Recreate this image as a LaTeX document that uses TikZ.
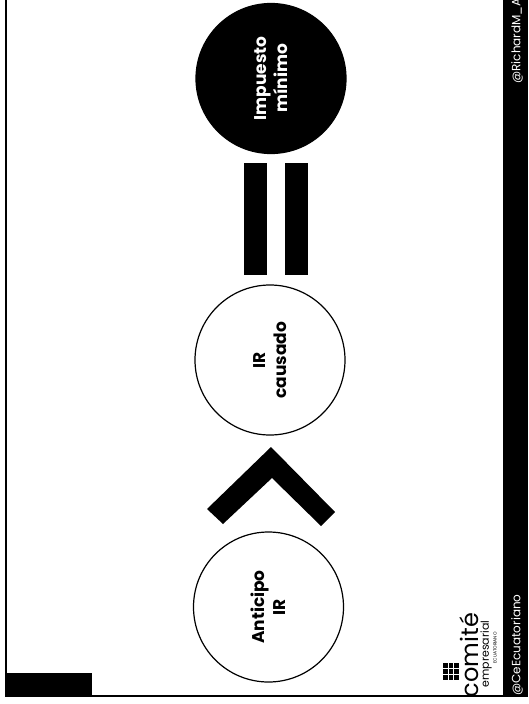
\documentclass[tikz,border=0pt]{standalone}
\usepackage{fontspec}
\setmainfont{Poppins}
\usepackage{tikz}
\tikzset{
  taxcircle/.style={circle, draw, line width=1.2pt, minimum size=150pt, inner sep=0pt},
  taxlabel/.style={rotate=90, align=center, font=\fontsize{17}{21}\selectfont\bfseries},
  tweet/.style={rotate=90, text=white, font=\fontsize{12}{14}\selectfont, inner sep=0pt}
}
\begin{document}
\begin{tikzpicture}[x=1pt, y=-1pt]
  \useasboundingbox (0,0) rectangle (528,704);
  \fill[white] (0,0) rectangle (528,704);
  %frame of the slide
  \fill (4.5,0) rectangle (7,697);
  \fill (4.5,673) rectangle (92,697);
  \fill (92,694.5) rectangle (528,697);
  \fill (503,0) rectangle (528,697);
  %the three circles
  \node [taxcircle] (anticipo) at (268.5,607) {};
  \node [taxlabel] at (anticipo.center) {Anticipo\\IR};
  \node [taxcircle] (causado) at (270,360) {};
  \node [taxlabel] at (causado.center) {IR\\causado};
  \node [taxcircle, fill=black] (minimo) at (271,78.5) {};
  \node [taxlabel, text=white] at (minimo.center) {Impuesto\\mínimo};
  %greater-than sign
  \fill (271,447) -- (335,512) -- (321,526) -- (272,478) -- (223,524) -- (207,509) -- cycle;
  %equals sign
  \foreach \x in {244,285} {
    \fill (\x,163) rectangle (\x+23,275);
  }
  %logo
  \foreach \i in {0,1,2} {
    \foreach \j in {0,1,2} {
      \fill (443+5.5*\i,663+6*\j) rectangle +(4.5,5);
    }
  }
  \node [rotate=90, font=\fontsize{24}{24}\selectfont, inner sep=0pt] (comite) at (469,655) {comité};
  \node [rotate=90, font=\fontsize{11}{11}\selectfont, inner sep=0pt] (empresarial) at (486,654) {empresarial};
  \node [rotate=90, font=\fontsize{4.5}{5}\selectfont, inner sep=0pt] (ecuatoriano) at (495,648) {ECUATORIANO};
  %footer
  \node [tweet] (left) at (517,645) {@CeEcuatoriano};
  \node [tweet] (right) at (517,41) {@RichardM\_A};
\end{tikzpicture}
\end{document}
